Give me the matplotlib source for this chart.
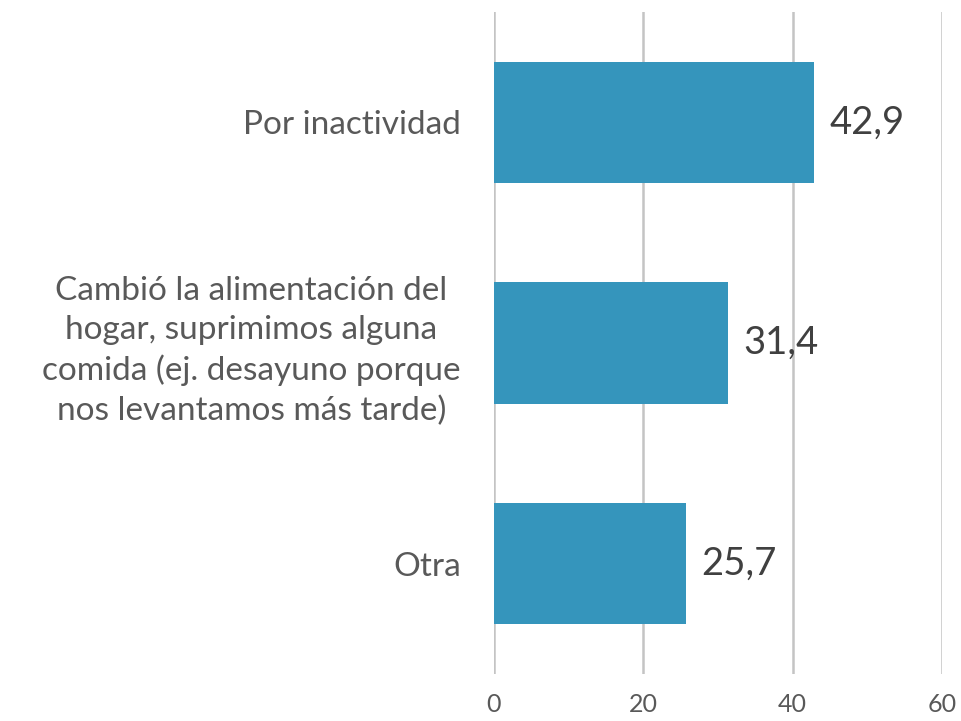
import matplotlib
matplotlib.use("Agg")
import matplotlib.pyplot as plt

categories = ["Por inactividad",
              "Cambió la alimentación del\nhogar, suprimimos alguna\ncomida (ej. desayuno porque\nnos levantamos más tarde)",
              "Otra"]
values = [42.9, 31.4, 25.7]
value_labels = ["42,9", "31,4", "25,7"]
xticks = [0, 20, 40, 60]

plt.rcParams['font.family'] = ['Lato', 'DejaVu Sans']

fig = plt.figure(figsize=(9.62, 7.21), dpi=100)
ax = fig.add_axes([494/962, 1-674/721, (942-494)/962, (674-12)/721])

ypos = list(range(len(categories)))
ax.barh(ypos, values, height=0.55, color="#3595BC", zorder=3)
ax.set_ylim(2.5, -0.5)
ax.set_xlim(0, 60)
ax.set_xticks(xticks)
ax.set_xticklabels([str(t) for t in xticks])
ax.set_yticks(ypos)
ax.set_yticklabels(categories, ha="right", multialignment="center", linespacing=1.38)
ax.tick_params(axis="y", length=0, pad=24, labelsize=24, labelcolor="#595959")
ax.tick_params(axis="x", length=0, pad=14, labelsize=18, labelcolor="#595959")
ax.grid(axis="x", color="#C4C4C4", linewidth=1.8, zorder=0)
for s in ax.spines.values():
    s.set_visible(False)

for y, v, t in zip(ypos, values, value_labels):
    ax.annotate(t, (v, y), xytext=(11, 0), textcoords="offset points",
                va="center", ha="left", fontsize=27.5, color="#404040")

fig.savefig("out.png", dpi=100)
